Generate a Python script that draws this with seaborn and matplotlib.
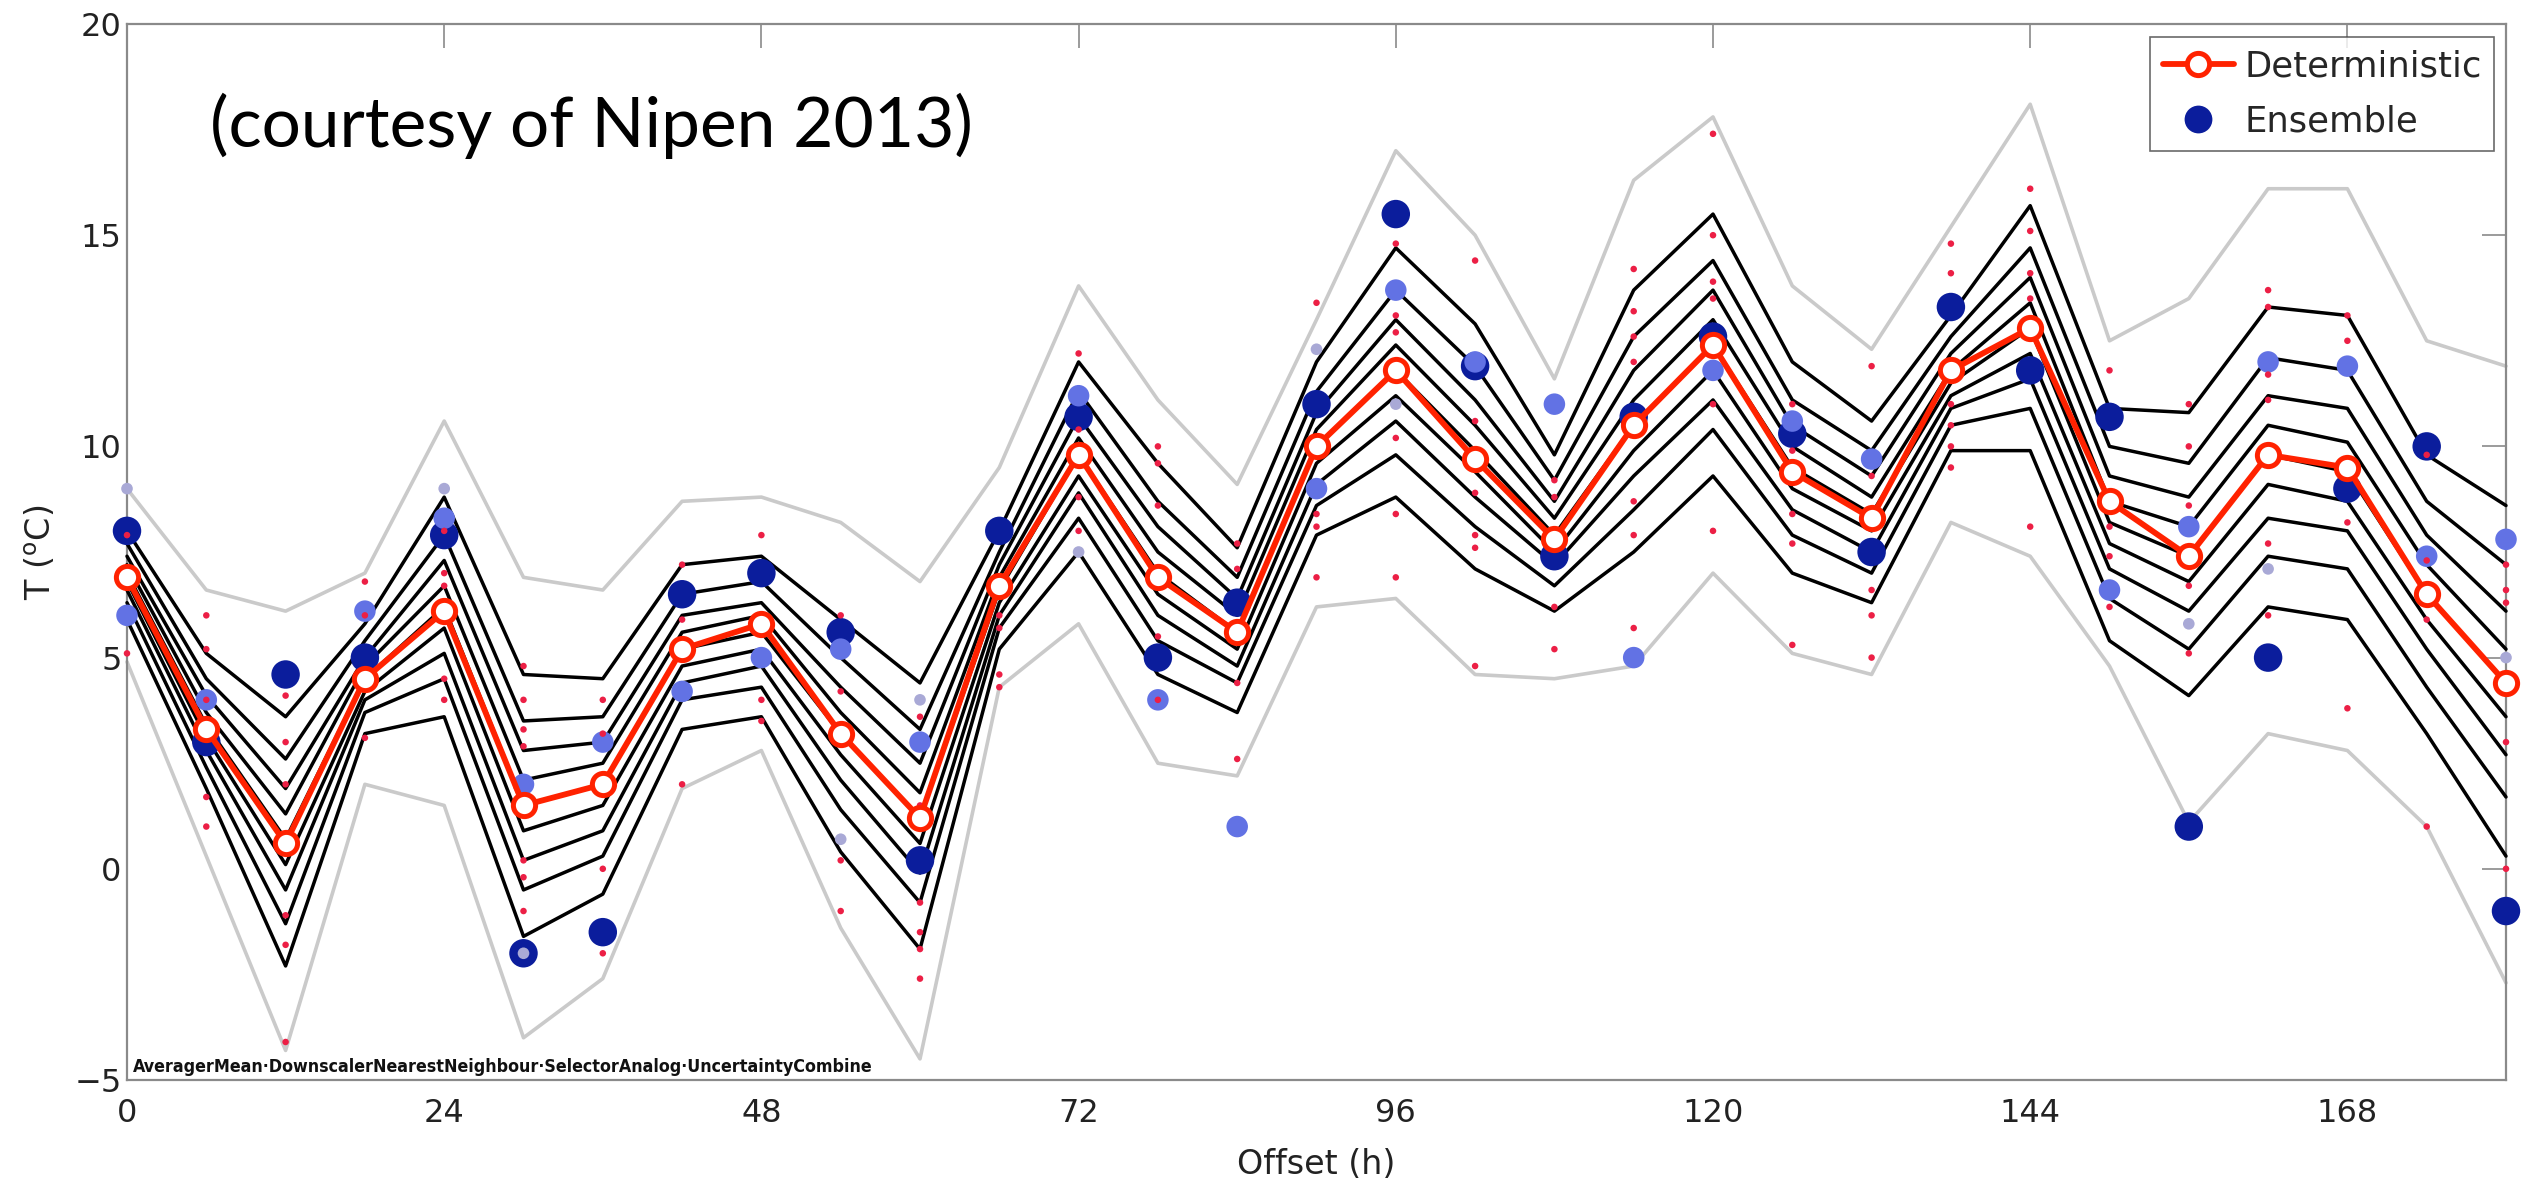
import numpy as np
import pandas as pd
import matplotlib
matplotlib.use("Agg")
import matplotlib.pyplot as plt
import seaborn as sns
from matplotlib.lines import Line2D

# ---------------------------------------------------------------- data
hours = list(range(0, 181, 6))

deterministic = [6.9, 3.3, 0.6, 4.5, 6.1, 1.5, 2.0, 5.2, 5.8, 3.2, 1.2, 6.7, 9.8, 6.9, 5.6, 10.0,
                 11.8, 9.7, 7.8, 10.5, 12.4, 9.4, 8.3, 11.8, 12.8, 8.7, 7.4, 9.8, 9.5, 6.5, 4.4]

# probabilistic forecast: quantile lines (10 % ... 90 %)
q90 = [8.0, 5.1, 3.6, 5.8, 8.8, 4.6, 4.5, 7.2, 7.4, 5.9, 4.4, 8.0, 12.0, 9.6, 7.6, 12.0,
       14.7, 12.9, 9.8, 13.7, 15.5, 12.0, 10.6, 13.1, 15.7, 10.9, 10.8, 13.3, 13.1, 9.8, 8.6]
q80 = [7.7, 4.5, 2.6, 5.4, 7.9, 3.5, 3.6, 6.5, 6.8, 5.0, 3.3, 7.5, 11.3, 8.7, 6.9, 11.3,
       13.7, 11.9, 9.2, 12.6, 14.4, 11.1, 9.9, 12.6, 14.7, 10.0, 9.6, 12.1, 11.8, 8.7, 7.2]
q70 = [7.4, 4.1, 1.9, 5.0, 7.3, 2.8, 3.0, 6.0, 6.3, 4.3, 2.5, 7.2, 10.7, 8.1, 6.4, 10.8,
       13.0, 11.1, 8.7, 11.8, 13.7, 10.5, 9.3, 12.2, 14.0, 9.3, 8.8, 11.2, 10.9, 7.9, 6.1]
q60 = [7.2, 3.7, 1.3, 4.8, 6.7, 2.1, 2.5, 5.6, 6.0, 3.7, 1.8, 6.9, 10.2, 7.5, 6.0, 10.4,
       12.4, 10.5, 8.3, 11.1, 13.0, 10.0, 8.8, 11.8, 13.4, 8.7, 8.1, 10.5, 10.1, 7.2, 5.2]
q50 = [7.0, 3.4, 0.7, 4.5, 6.2, 1.5, 2.0, 5.2, 5.6, 3.2, 1.2, 6.6, 9.8, 7.0, 5.6, 10.0,
       11.8, 9.9, 7.9, 10.5, 12.4, 9.5, 8.4, 11.5, 12.8, 8.2, 7.4, 9.8, 9.4, 6.5, 4.4]
q40 = [6.8, 3.1, 0.1, 4.2, 5.7, 0.9, 1.5, 4.8, 5.2, 2.7, 0.6, 6.3, 9.3, 6.5, 5.2, 9.6,
       11.2, 9.4, 7.5, 9.9, 11.8, 9.0, 8.0, 11.2, 12.2, 7.7, 6.8, 9.1, 8.7, 5.9, 3.6]
q30 = [6.6, 2.8, -0.5, 4.0, 5.1, 0.2, 0.9, 4.4, 4.8, 2.1, -0.1, 6.0, 8.9, 6.0, 4.8, 9.1,
       10.6, 8.8, 7.2, 9.3, 11.1, 8.5, 7.5, 10.9, 11.6, 7.1, 6.1, 8.3, 8.0, 5.2, 2.7]
q20 = [6.3, 2.4, -1.3, 3.7, 4.5, -0.5, 0.3, 4.0, 4.3, 1.4, -0.8, 5.7, 8.3, 5.4, 4.4, 8.6,
       9.8, 8.1, 6.7, 8.5, 10.4, 7.9, 7.0, 10.5, 10.9, 6.4, 5.2, 7.4, 7.1, 4.3, 1.7]
q10 = [5.9, 1.9, -2.3, 3.2, 3.6, -1.6, -0.6, 3.3, 3.6, 0.4, -1.9, 5.2, 7.5, 4.6, 3.7, 7.9,
       8.8, 7.1, 6.1, 7.5, 9.3, 7.0, 6.3, 9.9, 9.9, 5.4, 4.1, 6.2, 5.9, 3.2, 0.3]

# outer envelope (extreme quantiles)
q_upper = [9.0, 6.6, 6.1, 7.0, 10.6, 6.9, 6.6, 8.7, 8.8, 8.2, 6.8, 9.5, 13.8, 11.1, 9.1, 13.0,
           17.0, 15.0, 11.6, 16.3, 17.8, 13.8, 12.3, 15.2, 18.1, 12.5, 13.5, 16.1, 16.1, 12.5, 11.9]
q_lower = [4.9, 0.3, -4.3, 2.0, 1.5, -4.0, -2.6, 1.9, 2.8, -1.4, -4.5, 4.3, 5.8, 2.5, 2.2, 6.2,
           6.4, 4.6, 4.5, 4.8, 7.0, 5.1, 4.6, 8.2, 7.4, 4.8, 1.1, 3.2, 2.8, 1.0, -2.7]

# ensemble members
ens_main = [8.0, 3.0, 4.6, 5.0, 7.9, -2.0, -1.5, 6.5, 7.0, 5.6, 0.2, 8.0, 10.7, 5.0, 6.3, 11.0,
            15.5, 11.9, 7.4, 10.7, 12.6, 10.3, 7.5, 13.3, 11.8, 10.7, 1.0, 5.0, 9.0, 10.0, -1.0]
ens_light = [6.0, 4.0, np.nan, 6.1, 8.3, 2.0, 3.0, 4.2, 5.0, 5.2, 3.0, np.nan, 11.2, 4.0, 1.0, 9.0,
             13.7, 12.0, 11.0, 5.0, 11.8, 10.6, 9.7, np.nan, np.nan, 6.6, 8.1, 12.0, 11.9, 7.4, 7.8]
ens_pale_hours = [0, 24, 30, 54, 60, 72, 90, 96, 156, 162, 180]
ens_pale_temps = [9.0, 9.0, -2.0, 0.7, 4.0, 7.5, 12.3, 11.0, 5.8, 7.1, 5.0]

# individual member scatter
member_hours = ([0] * 2 + [6] * 5 + [12] * 6 + [18] * 4 + [24] * 5 + [30] * 7 + [36] * 4 + [42] * 3 +
                [48] * 3 + [54] * 4 + [60] * 6 + [66] * 4 + [72] * 4 + [78] * 5 + [84] * 4 + [90] * 4 +
                [96] * 6 + [102] * 6 + [108] * 4 + [114] * 7 + [120] * 6 + [126] * 5 + [132] * 5 +
                [138] * 6 + [144] * 5 + [150] * 4 + [156] * 5 + [162] * 6 + [168] * 4 + [174] * 4 + [180] * 5)
member_temps = [7.9, 5.1,
                6.0, 5.2, 4.0, 1.7, 1.0,
                4.1, 3.0, 2.0, -1.1, -1.8, -4.1,
                6.8, 6.0, 4.7, 3.1,
                8.0, 7.0, 6.7, 4.5, 4.0,
                4.8, 4.0, 3.3, 2.9, 0.2, -0.2, -1.0,
                4.0, 3.2, 0.0, -2.0,
                7.2, 5.9, 2.0,
                7.9, 4.0, 3.5,
                6.0, 4.2, 0.2, -1.0,
                3.6, 1.5, -0.8, -1.5, -1.9, -2.6,
                6.0, 5.7, 4.6, 4.3,
                12.2, 10.4, 8.8, 8.0,
                10.0, 9.6, 8.6, 5.5, 4.0,
                7.7, 7.1, 4.4, 2.6,
                13.4, 8.4, 8.1, 6.9,
                14.8, 13.1, 12.7, 10.2, 8.4, 6.9,
                14.4, 10.6, 8.9, 7.9, 7.6, 4.8,
                9.2, 8.8, 6.2, 5.2,
                14.2, 13.2, 12.6, 12.0, 8.7, 7.9, 5.7,
                17.4, 15.0, 13.9, 13.5, 11.0, 8.0,
                11.0, 9.9, 8.4, 7.7, 5.3,
                11.9, 9.3, 6.6, 6.0, 5.0,
                14.8, 14.1, 11.0, 10.5, 10.0, 9.5,
                16.1, 15.1, 14.1, 13.5, 8.1,
                11.8, 8.1, 7.4, 6.2,
                11.0, 10.0, 8.6, 6.7, 5.1,
                13.7, 13.3, 11.7, 11.1, 7.7, 6.0,
                13.1, 12.5, 8.2, 3.8,
                9.8, 7.3, 5.9, 1.0,
                7.2, 6.6, 6.3, 3.0, 0.0]

x_ticks = [0, 24, 48, 72, 96, 120, 144, 168]
y_ticks = [-5, 0, 5, 10, 15, 20]

# ---------------------------------------------------------------- style
sns.set_theme(style="white")
plt.rcParams["font.family"] = ["DejaVu Sans"]

RED = "#ff2200"
DARK_BLUE = "#0b1d9c"
LIGHT_BLUE = "#6272e4"
PALE = "#a9a9d6"
DOT_RED = "#ec1f45"
ENVELOPE = "#cacaca"

W, H = 2527, 1189
fig = plt.figure(figsize=(W / 100, H / 100), dpi=100)
fig.patch.set_facecolor("white")
ax = fig.add_axes([127 / W, 1 - 1080 / H, (2506 - 127) / W, (1080 - 24) / H])
ax.set_facecolor("white")

# quantile lines
qdf = pd.DataFrame({"hour": hours, "q10": q10, "q20": q20, "q30": q30, "q40": q40,
                    "q50": q50, "q60": q60, "q70": q70, "q80": q80, "q90": q90})
qlong = qdf.melt(id_vars="hour", var_name="level", value_name="temp")
sns.lineplot(data=qlong, x="hour", y="temp", hue="level", palette=["black"] * 9,
             estimator=None, lw=2.5, legend=False, ax=ax, zorder=3)

edf = pd.DataFrame({"hour": hours, "upper": q_upper, "lower": q_lower})
elong = edf.melt(id_vars="hour", var_name="level", value_name="temp")
sns.lineplot(data=elong, x="hour", y="temp", hue="level", palette=[ENVELOPE] * 2,
             estimator=None, lw=2.6, legend=False, ax=ax, zorder=2)

# ensemble members
sns.scatterplot(x=hours, y=ens_main, color=DARK_BLUE, s=420, edgecolor="none", ax=ax, zorder=4)
sns.scatterplot(x=hours, y=ens_light, color=LIGHT_BLUE, s=240, edgecolor="none", ax=ax, zorder=4)
sns.scatterplot(x=ens_pale_hours, y=ens_pale_temps, color=PALE, s=70, edgecolor="none", ax=ax, zorder=4)
sns.scatterplot(x=member_hours, y=member_temps, color=DOT_RED, s=22, edgecolor="none", ax=ax, zorder=5)

# deterministic forecast
sns.lineplot(x=hours, y=deterministic, color=RED, lw=4.2, marker="o", markersize=16,
             markerfacecolor="white", markeredgecolor=RED, markeredgewidth=3.6, ax=ax, zorder=6)

for art in list(ax.lines) + list(ax.collections):
    art.set_clip_on(False)

# ---------------------------------------------------------------- axes
ax.set_xlim(0, 180)
ax.set_ylim(-5, 20)
ax.set_xticks(x_ticks)
ax.set_yticks(y_ticks)
ax.tick_params(axis="both", direction="in", length=17, width=1.2, color="#8a8a8a",
               labelsize=23, labelcolor="#222222", top=True, right=True)
ax.tick_params(axis="x", pad=13)
ax.tick_params(axis="y", pad=4)
for sp in ax.spines.values():
    sp.set_color("#8a8a8a")
    sp.set_linewidth(1.6)
    sp.set_visible(True)

ax.set_xlabel("Offset (h)", fontsize=24, color="#222222")
ax.set_ylabel(r"T ($^{\rm o}$C)", fontsize=24, color="#222222")
ax.xaxis.set_label_coords(0.5, -0.064)
ax.yaxis.set_label_coords(-0.029, 0.5)

handles = [
    Line2D([0], [0], color=RED, lw=4.2, marker="o", markersize=16, markerfacecolor="white",
           markeredgecolor=RED, markeredgewidth=3.6),
    Line2D([0], [0], color="none", marker="o", markersize=20, markerfacecolor=DARK_BLUE,
           markeredgecolor="none"),
]
leg = ax.legend(handles, ["Deterministic", "Ensemble"], loc="upper right",
                bbox_to_anchor=(2494 / W, 1 - 37 / H), bbox_transform=fig.transFigure,
                borderaxespad=0, fontsize=25.5, frameon=True, fancybox=False,
                handlelength=2.0, handletextpad=0.3, borderpad=0.35, labelspacing=0.6)
leg.get_frame().set_edgecolor("#444444")
leg.get_frame().set_linewidth(1.2)
leg.set_zorder(10)

# annotations
fig.text(210 / W, 1 - 147 / H, "(courtesy of Nipen 2013)", fontsize=50,
         family=["Lato", "DejaVu Sans"], ha="left", va="baseline", color="black")
fig.text(133 / W, 1 - 1067 / H,
         "AveragerMean·DownscalerNearestNeighbour·SelectorAnalog·UncertaintyCombine",
         fontsize=12.8, fontweight="bold", fontstretch="condensed",
         family=["DejaVu Sans"], ha="left", va="center", color="#111111")

fig.savefig("out.png", dpi=100, facecolor="white")
